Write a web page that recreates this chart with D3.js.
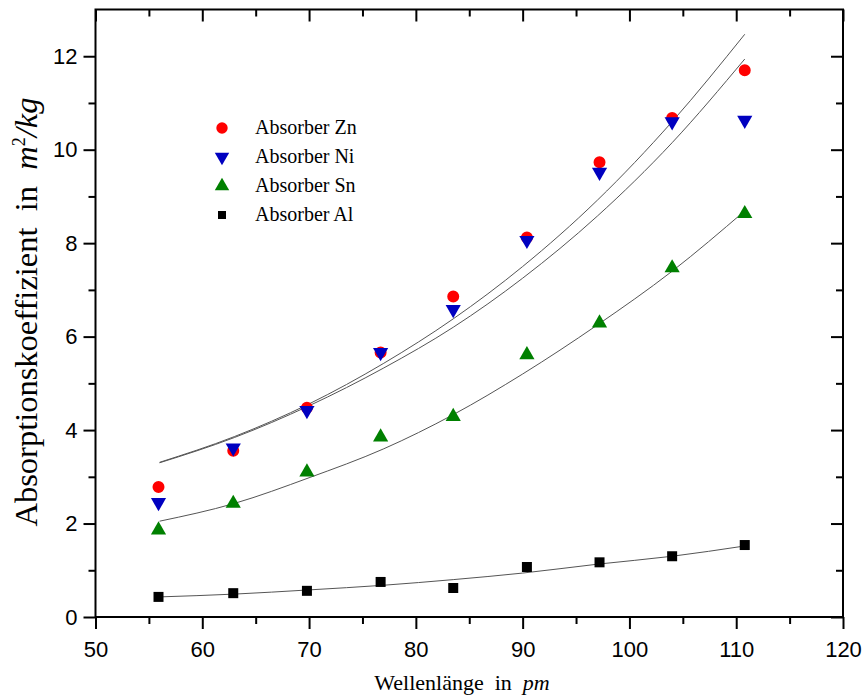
<!DOCTYPE html>
<html>
<head>
<meta charset="utf-8">
<script src="https://cdn.jsdelivr.net/npm/d3@7"></script>
<style>
  body { margin: 0; background: #fff; }
  svg { display: block; }
  .tick text { font-family: "Liberation Sans", Arial, sans-serif; font-size: 22px; fill: #000; }
  .serif { font-family: "Liberation Serif", "Times New Roman", serif; fill: #000; }
</style>
</head>
<body>
<div id="chart"></div>
<script>
// measured wavelengths (pm)
const wavelengths = [55.9, 62.9, 69.8, 76.7, 83.5, 90.4, 97.2, 104.0, 110.8];

// absorption coefficients m^2/kg
const zn = [2.78, 3.56, 4.48, 5.66, 6.86, 8.12, 9.73, 10.68, 11.70];
const ni = [2.45, 3.62, 4.42, 5.66, 6.58, 8.06, 9.52, 10.60, 10.63];
const sn = [1.86, 2.43, 3.10, 3.85, 4.29, 5.61, 6.29, 7.47, 8.63];
const al = [0.43, 0.51, 0.56, 0.75, 0.62, 1.07, 1.17, 1.30, 1.54];

// fit curves
const fitX = [56, 63, 70, 77, 83.5, 90, 97, 104, 110.8];
const fitZn = [3.31, 3.86, 4.56, 5.43, 6.38, 7.50, 8.92, 10.60, 12.47];
const fitNi = [3.30, 3.84, 4.52, 5.33, 6.20, 7.25, 8.58, 10.15, 11.94];
const fitSn = [2.05, 2.43, 2.98, 3.60, 4.33, 5.20, 6.25, 7.40, 8.69];
const fitAl = [0.43, 0.49, 0.58, 0.68, 0.80, 0.94, 1.13, 1.30, 1.52];

const xMajor = [50, 60, 70, 80, 90, 100, 110, 120];
const xMinor = [55, 65, 75, 85, 95, 105, 115];
const yMajor = [0, 2, 4, 6, 8, 10, 12];
const yMinor = [1, 3, 5, 7, 9, 11];

const legendNames = ["Absorber Zn", "Absorber Ni", "Absorber Sn", "Absorber Al"];

const width = 864, height = 698;
const pLeft = 95.5, pRight = 843, pTop = 9.5, pBottom = 617;

const svg = d3.select("#chart").append("svg")
    .attr("width", width)
    .attr("height", height);

const x = d3.scaleLinear().domain([50, 120]).range([pLeft, pRight]);
const y = d3.scaleLinear().domain([0, 13]).range([pBottom, pTop]);

// bottom / left: ticks outward with labels
svg.append("g").attr("transform", `translate(0,${pBottom})`)
    .call(d3.axisBottom(x).tickValues(xMajor).tickSize(12).tickSizeOuter(0).tickPadding(12).tickFormat(d3.format("d")));
svg.append("g").attr("transform", `translate(0,${pBottom})`)
    .call(d3.axisBottom(x).tickValues(xMinor).tickSize(7).tickSizeOuter(0).tickFormat(""));

svg.append("g").attr("transform", `translate(${pLeft},0)`)
    .call(d3.axisLeft(y).tickValues(yMajor).tickSize(12).tickSizeOuter(0).tickPadding(6).tickFormat(d3.format("d")));
svg.append("g").attr("transform", `translate(${pLeft},0)`)
    .call(d3.axisLeft(y).tickValues(yMinor).tickSize(7).tickSizeOuter(0).tickFormat(""));

// top / right: mirrored ticks pointing inward
svg.append("g").attr("transform", `translate(0,${pTop})`)
    .call(d3.axisTop(x).tickValues(xMajor).tickSize(-12).tickSizeOuter(0).tickFormat(""));
svg.append("g").attr("transform", `translate(0,${pTop})`)
    .call(d3.axisTop(x).tickValues(xMinor).tickSize(-7).tickSizeOuter(0).tickFormat(""));

svg.append("g").attr("transform", `translate(${pRight},0)`)
    .call(d3.axisRight(y).tickValues(yMajor).tickSize(-12).tickSizeOuter(0).tickFormat(""));
svg.append("g").attr("transform", `translate(${pRight},0)`)
    .call(d3.axisRight(y).tickValues(yMinor).tickSize(-7).tickSizeOuter(0).tickFormat(""));

svg.selectAll(".domain").remove();
svg.selectAll(".tick line").attr("stroke", "#000").attr("stroke-width", 2);

// frame
svg.append("rect")
    .attr("x", pLeft).attr("y", pTop)
    .attr("width", pRight - pLeft).attr("height", pBottom - pTop)
    .attr("fill", "none").attr("stroke", "#000").attr("stroke-width", 2);

// fit curves
const line = d3.line()
    .x((d, i) => x(fitX[i]))
    .y(d => y(d))
    .curve(d3.curveMonotoneX);

[fitZn, fitNi, fitSn, fitAl].forEach(f => {
    svg.append("path")
        .datum(f)
        .attr("d", line)
        .attr("fill", "none")
        .attr("stroke", "#555")
        .attr("stroke-width", 1);
});

// markers
const series = [
    { vals: zn, sym: d3.symbolCircle, size: 113, color: "#ff0000", rot: 0 },
    { vals: ni, sym: d3.symbolTriangle, size: 100, color: "#0000c0", rot: 180 },
    { vals: sn, sym: d3.symbolTriangle, size: 100, color: "#008000", rot: 0 },
    { vals: al, sym: d3.symbolSquare, size: 100, color: "#000000", rot: 0 }
];

series.forEach(s => {
    svg.append("g").selectAll("path")
        .data(s.vals)
        .join("path")
        .attr("d", d3.symbol().type(s.sym).size(s.size))
        .attr("transform", (d, i) => `translate(${x(wavelengths[i])},${y(d)}) rotate(${s.rot})`)
        .attr("fill", s.color);
});

// legend
const legend = svg.append("g").attr("transform", "translate(222,128)");
series.forEach((s, i) => {
    const row = legend.append("g").attr("transform", `translate(0,${i * 29})`);
    row.append("path")
        .attr("d", d3.symbol().type(s.sym).size(s.sym === d3.symbolSquare ? 64 : s.size * 0.9))
        .attr("transform", `rotate(${s.rot})`)
        .attr("fill", s.color);
    row.append("text")
        .attr("class", "serif")
        .attr("x", 33).attr("y", 6)
        .style("font-size", "20px")
        .text(legendNames[i]);
});

// axis titles
const xt = svg.append("text")
    .attr("class", "serif")
    .attr("x", 462)
    .attr("y", 690)
    .attr("text-anchor", "middle")
    .style("font-size", "22px")
    .style("white-space", "pre");
xt.append("tspan").text("Wellenlänge  in  ");
xt.append("tspan").style("font-style", "italic").text("pm");

const yt = svg.append("text")
    .attr("class", "serif")
    .attr("transform", "translate(37,312) rotate(-90)")
    .attr("text-anchor", "middle")
    .style("font-size", "32.5px")
    .style("white-space", "pre");
yt.append("tspan").text("Absorptionskoeffizient  in  ");
yt.append("tspan").style("font-style", "italic").text("m");
yt.append("tspan").attr("dy", -12).style("font-size", "18px").text("2");
yt.append("tspan").attr("dy", 12).style("font-style", "italic").text("/kg");
</script>
</body>
</html>
